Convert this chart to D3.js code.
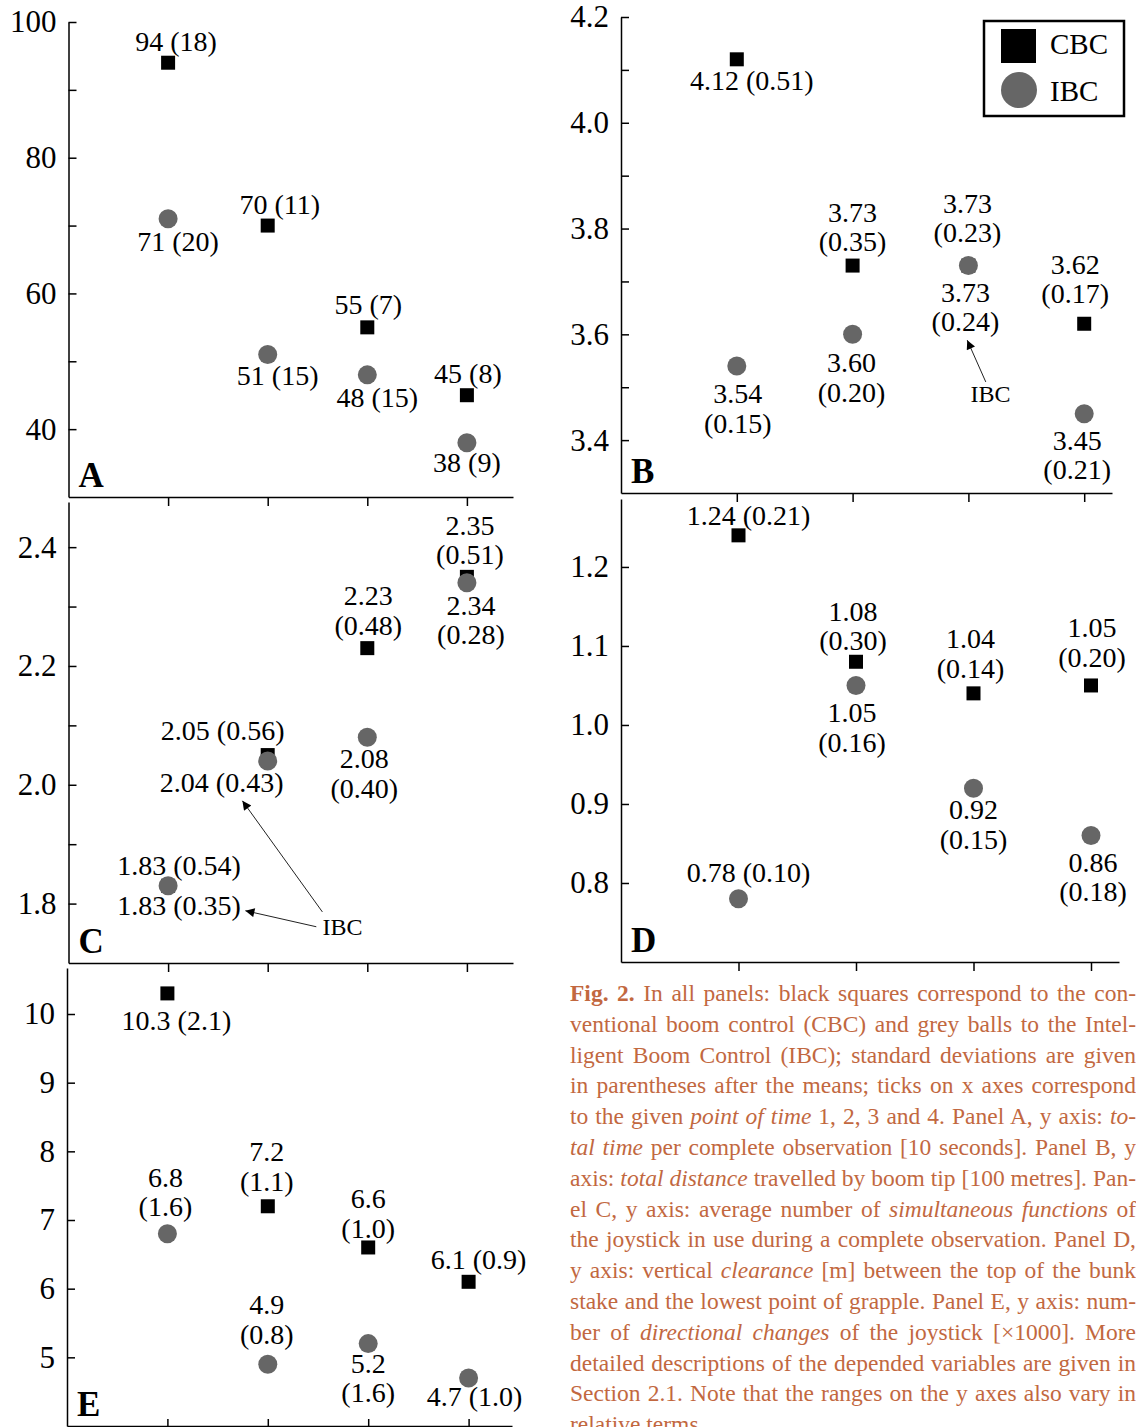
<!DOCTYPE html>
<html>
<head>
<meta charset="utf-8">
<script src="https://cdn.jsdelivr.net/npm/d3@7"></script>
<style>
    body { margin: 0; background: #fff; }
    svg { display: block; font-family: "Liberation Serif", "Times New Roman", serif; }
    .axis path, .axis line { stroke: #000; stroke-width: 1.5; }
    .axis text { font-size: 31px; fill: #000; font-family: "Liberation Serif", serif; }
    .val { font-size: 28px; fill: #000; text-anchor: middle; }
</style>
</head>
<body>
<div id="chart"></div>
<script>
// point of time on every x axis
const times = [1, 2, 3, 4];

// Panel A: total time [10 s]
const cbcA = [94, 70, 55, 45], cbcSdA = [18, 11, 7, 8];
const ibcA = [71, 51, 48, 38], ibcSdA = [20, 15, 15, 9];
// Panel B: total distance [100 m]
const cbcB = [4.12, 3.73, 3.73, 3.62], cbcSdB = [0.51, 0.35, 0.23, 0.17];
const ibcB = [3.54, 3.60, 3.73, 3.45], ibcSdB = [0.15, 0.20, 0.24, 0.21];
// Panel C: simultaneous functions
const cbcC = [1.83, 2.05, 2.23, 2.35], cbcSdC = [0.54, 0.56, 0.48, 0.51];
const ibcC = [1.83, 2.04, 2.08, 2.34], ibcSdC = [0.35, 0.43, 0.40, 0.28];
// Panel D: clearance [m]
const cbcD = [1.24, 1.08, 1.04, 1.05], cbcSdD = [0.21, 0.30, 0.14, 0.20];
const ibcD = [0.78, 1.05, 0.92, 0.86], ibcSdD = [0.10, 0.16, 0.15, 0.18];
// Panel E: directional changes [x1000]
const cbcE = [10.3, 7.2, 6.6, 6.1], cbcSdE = [2.1, 1.1, 1.0, 0.9];
const ibcE = [6.8, 4.9, 5.2, 4.7], ibcSdE = [1.6, 0.8, 1.6, 1.0];

// y ticks and which of them carry a label
const ticksA = [40, 50, 60, 70, 80, 90, 100], labelsA = [40, 60, 80, 100];
const ticksB = [3.4, 3.5, 3.6, 3.7, 3.8, 3.9, 4.0, 4.1, 4.2], labelsB = [3.4, 3.6, 3.8, 4.0, 4.2];
const ticksC = [1.8, 1.9, 2.0, 2.1, 2.2, 2.3, 2.4], labelsC = [1.8, 2.0, 2.2, 2.4];
const ticksD = [0.8, 0.9, 1.0, 1.1, 1.2], labelsD = [0.8, 0.9, 1.0, 1.1, 1.2];
const ticksE = [5, 6, 7, 8, 9, 10], labelsE = [5, 6, 7, 8, 9, 10];

const legendNames = ["CBC", "IBC"];

const captionLines = [
    [["Fig. 2.", "b"], [" In all panels: black squares correspond to the con-", ""]],
    [["ventional boom control (CBC) and grey balls to the Intel-", ""]],
    [["ligent Boom Control (IBC); standard deviations are given", ""]],
    [["in parentheses after the means; ticks on x axes correspond", ""]],
    [["to the given ", ""], ["point of time", "i"], [" 1, 2, 3 and 4. Panel A, y axis: ", ""], ["to-", "i"]],
    [["tal time", "i"], [" per complete observation [10 seconds]. Panel B, y", ""]],
    [["axis: ", ""], ["total distance", "i"], [" travelled by boom tip [100 metres]. Pan-", ""]],
    [["el C, y axis: average number of ", ""], ["simultaneous functions", "i"], [" of", ""]],
    [["the joystick in use during a complete observation. Panel D,", ""]],
    [["y axis: vertical ", ""], ["clearance", "i"], [" [m] between the top of the bunk", ""]],
    [["stake and the lowest point of grapple. Panel E, y axis: num-", ""]],
    [["ber of ", ""], ["directional changes", "i"], [" of the joystick [\u00d71000]. More", ""]],
    [["detailed descriptions of the depended variables are given in", ""]],
    [["Section 2.1. Note that the ranges on the y axes also vary in", ""]],
    [["relative terms.", ""]]
];

// label placement per point: [dx, dy to first baseline, number of lines]
const panels = [
    {name: "A", axisX: 68.5, step: 99.6, right: 513, top: 22, bottom: 497, yDomain: [30, 100],
     ticks: ticksA, labels: labelsA, tickFmt: d3.format("d"), valFmt: d3.format("d"),
     cbc: cbcA, cbcSd: cbcSdA, ibc: ibcA, ibcSd: ibcSdA,
     cbcPos: [[8, -12, 1], [12, -12, 1], [1, -13, 1], [1, -12, 1]],
     ibcPos: [[10, 32, 1], [10, 30, 1], [10, 32, 1], [0, 29, 1]]},
    {name: "B", axisX: 621, step: 115.8, right: 1112, top: 17, bottom: 493, yDomain: [3.3, 4.2],
     ticks: ticksB, labels: labelsB, tickFmt: d3.format(".1f"), valFmt: d3.format(".2f"),
     cbc: cbcB, cbcSd: cbcSdB, ibc: ibcB, ibcSd: ibcSdB,
     cbcPos: [[15, 31, 1], [0, -44, 2], [-1, -53, 2], [-9, -50, 2]],
     ibcPos: [[1, 37, 2], [-1, 38, 2], [-3, 36, 2], [-7, 36, 2]],
     note: {text: [3.19, 3.472], arrows: [[[3.15, 3.51], [2.99, 3.589]]]}},
    {name: "C", axisX: 68.5, step: 99.6, right: 513, top: 502, bottom: 963, yDomain: [1.7, 2.476],
     ticks: ticksC, labels: labelsC, tickFmt: d3.format(".1f"), valFmt: d3.format(".2f"),
     cbc: cbcC, cbcSd: cbcSdC, ibc: ibcC, ibcSd: ibcSdC,
     cbcPos: [[11, -11, 1], [-45, -15, 1], [1, -43, 2], [3, -42, 2]],
     ibcPos: [[11, 29, 1], [-46, 31, 1], [-3, 31, 2], [4, 32, 2]],
     note: {text: [2.75, 1.747], arrows: [[[2.549, 1.786], [1.746, 1.973]], [[2.488, 1.761], [1.776, 1.788]]]}},
    {name: "D", axisX: 621, step: 117.5, right: 1119, top: 499, bottom: 962, yDomain: [0.7, 1.286],
     ticks: ticksD, labels: labelsD, tickFmt: d3.format(".1f"), valFmt: d3.format(".2f"),
     cbc: cbcD, cbcSd: cbcSdD, ibc: ibcD, ibcSd: ibcSdD,
     cbcPos: [[10, -10, 1], [-3, -41, 2], [-3, -45, 2], [1, -48, 2]],
     ibcPos: [[10, -17, 1], [-4, 37, 2], [0, 31, 2], [2, 36, 2]]},
    {name: "E", axisX: 67, step: 100.4, right: 512, top: 968, bottom: 1426, yDomain: [4, 10.67],
     ticks: ticksE, labels: labelsE, tickFmt: d3.format("d"), valFmt: d3.format(".1f"), ticksUp: true,
     cbc: cbcE, cbcSd: cbcSdE, ibc: ibcE, ibcSd: ibcSdE,
     cbcPos: [[9, 37, 1], [-1, -45, 2], [0, -39, 2], [10, -13, 1]],
     ibcPos: [[-2, -47, 2], [-1, -50, 2], [0, 29, 2], [6, 28, 1]]}
];

const width = 1136, height = 1427;
const grey = "#666666";
const lineGap = 29.5;

const svg = d3.select("#chart").append("svg")
    .attr("width", width)
    .attr("height", height)
    .attr("viewBox", `0 0 ${width} ${height}`);

svg.append("defs").append("marker")
    .attr("id", "head")
    .attr("viewBox", "0 0 10 10")
    .attr("refX", 10).attr("refY", 5)
    .attr("markerWidth", 13).attr("markerHeight", 9)
    .attr("markerUnits", "userSpaceOnUse")
    .attr("orient", "auto")
    .append("path").attr("d", "M0,0L10,5L0,10Z").attr("fill", "#000");

panels.forEach(p => {
    const g = svg.append("g");
    const x = d3.scaleLinear([0, (p.right - p.axisX) / p.step], [p.axisX, p.right]);
    const y = d3.scaleLinear(p.yDomain, [p.bottom, p.top]);

    // axes
    g.append("g").attr("class", "axis")
        .attr("transform", `translate(${p.axisX},0)`)
        .call(d3.axisLeft(y).tickValues(p.ticks).tickSizeInner(-8).tickSizeOuter(0).tickPadding(12)
            .tickFormat(d => p.labels.includes(d) ? p.tickFmt(d) : ""));
    g.append("g").attr("class", "axis")
        .attr("transform", `translate(0,${p.bottom})`)
        .call(d3.axisBottom(x).tickValues(times).tickSizeInner(p.ticksUp ? -7 : 9).tickSizeOuter(0)
            .tickFormat(""));

    // panel letter
    g.append("text")
        .attr("x", p.axisX + 10).attr("y", p.bottom - 10)
        .style("font-size", "35px").style("font-weight", "bold")
        .text(p.name);

    // CBC squares
    g.selectAll("rect.cbc").data(p.cbc).join("rect")
        .attr("class", "cbc")
        .attr("x", (d, i) => x(times[i]) - 7)
        .attr("y", d => y(d) - 7)
        .attr("width", 14).attr("height", 14)
        .attr("fill", "#000");

    // IBC balls
    g.selectAll("circle.ibc").data(p.ibc).join("circle")
        .attr("class", "ibc")
        .attr("cx", (d, i) => x(times[i]))
        .attr("cy", d => y(d))
        .attr("r", 9.5)
        .attr("fill", grey);

    // value labels: mean (sd)
    const addLabels = (means, sds, pos) => {
        means.forEach((m, i) => {
            const [dx, dy, n] = pos[i];
            const lx = x(times[i]) + dx, ly = y(m) + dy;
            const mean = p.valFmt(m), sd = `(${p.valFmt(sds[i])})`;
            if (n === 1) {
                g.append("text").attr("class", "val").attr("x", lx).attr("y", ly).text(`${mean} ${sd}`);
            } else {
                g.append("text").attr("class", "val").attr("x", lx).attr("y", ly).text(mean);
                g.append("text").attr("class", "val").attr("x", lx).attr("y", ly + lineGap).text(sd);
            }
        });
    };
    addLabels(p.cbc, p.cbcSd, p.cbcPos);
    addLabels(p.ibc, p.ibcSd, p.ibcPos);

    // "IBC" pointer notes
    if (p.note) {
        g.append("text")
            .attr("x", x(p.note.text[0])).attr("y", y(p.note.text[1]))
            .attr("text-anchor", "middle")
            .style("font-size", "24px")
            .text("IBC");
        p.note.arrows.forEach(([a, b]) => {
            g.append("line")
                .attr("x1", x(a[0])).attr("y1", y(a[1]))
                .attr("x2", x(b[0])).attr("y2", y(b[1]))
                .attr("stroke", "#222").attr("stroke-width", 1)
                .attr("marker-end", "url(#head)");
        });
    }
});

// legend
const legend = svg.append("g").attr("transform", "translate(984,21)");
legend.append("rect")
    .attr("width", 140).attr("height", 95)
    .attr("fill", "#fff").attr("stroke", "#000").attr("stroke-width", 2.5);
legend.append("rect").attr("x", 17).attr("y", 8).attr("width", 35).attr("height", 34).attr("fill", "#000");
legend.append("circle").attr("cx", 35).attr("cy", 69).attr("r", 18).attr("fill", grey);
legend.selectAll("text.leg").data(legendNames).join("text")
    .attr("class", "leg")
    .attr("x", 66)
    .attr("y", (d, i) => 33 + i * 47)
    .style("font-size", "29px")
    .text(d => d);

// caption, justified to the column width
const cap = svg.append("g")
    .attr("fill", "#c2683f")
    .style("font-size", "23.5px");
const capLeft = 570, capWidth = 566;
captionLines.forEach((segs, i) => {
    const t = cap.append("text")
        .attr("x", capLeft)
        .attr("y", 1001 + i * 30.8)
        .style("white-space", "pre");
    segs.forEach(([s, st]) => {
        t.append("tspan")
            .attr("font-style", st === "i" ? "italic" : null)
            .attr("font-weight", st === "b" ? "bold" : null)
            .text(s);
    });
    if (i < captionLines.length - 1) {
        const w = t.node().getComputedTextLength();
        const spaces = (segs.map(d => d[0]).join("").match(/ /g) || []).length;
        if (spaces) t.style("word-spacing", `${(capWidth - w) / spaces}px`);
    }
});
</script>
</body>
</html>
